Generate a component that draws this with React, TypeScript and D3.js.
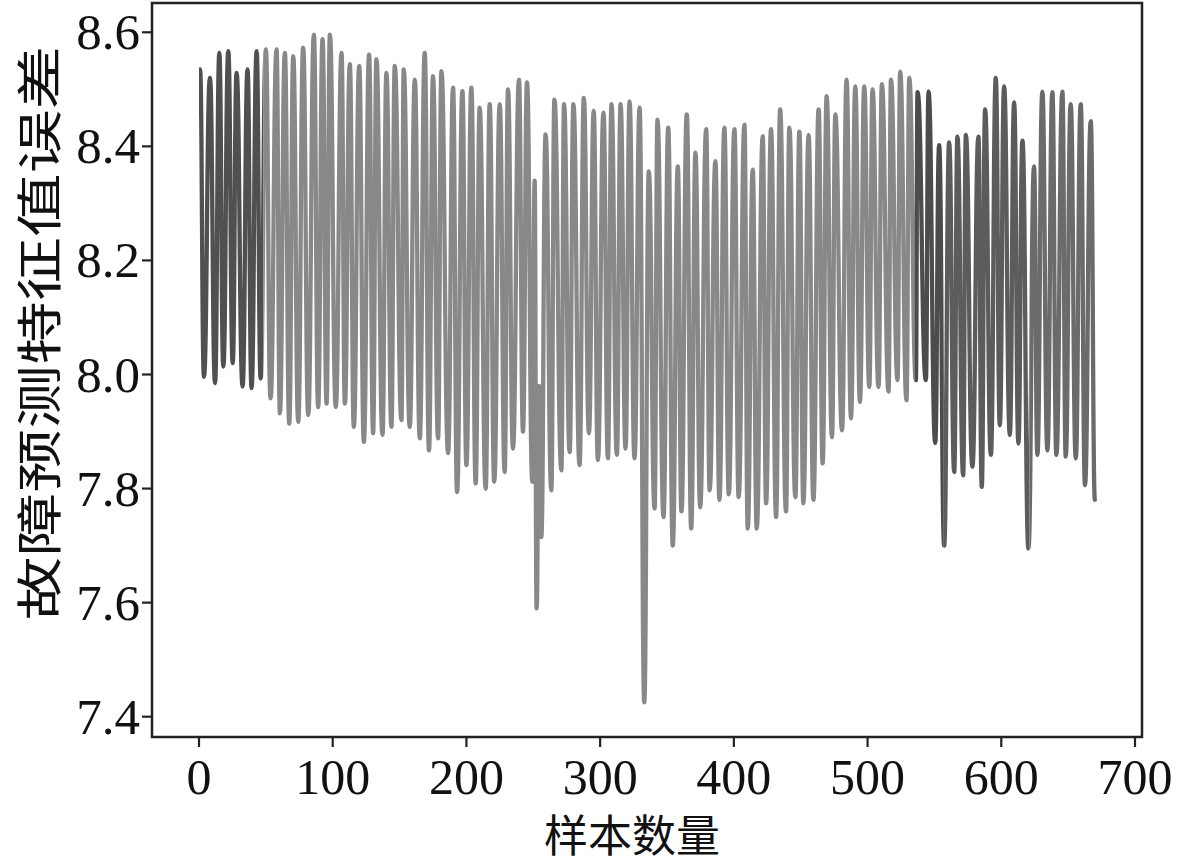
import * as d3 from "d3";

// turning points of the error curve (sample index, value)
const sampleIdx = [
  0, 0.8, 3.7, 8.2, 12.0, 15.2, 18.2, 21.9, 25.2, 28.1, 32.6, 36.3, 39.3, 43.1, 46.1, 50.0,
  53.5, 58.0, 60.5, 64.2, 67.5, 70.5, 74.2, 77.9, 81.7, 85.9, 89.1, 92.4, 95.4, 97.9, 102.3,
  106.6, 109.1, 112.8, 115.8, 119.8, 123.3, 127.2, 130.2, 132.7, 137.2, 140.2, 143.9, 146.4,
  151.4, 153.1, 157.6, 161.4, 165.1, 168.8, 172.0, 175.0, 178.8, 181.3, 186.3, 190.0, 193.0,
  197.0, 200.0, 203.7, 206.9, 209.9, 214.4, 217.4, 220.8, 224.9, 228.6, 231.1, 234.8, 239.3,
  242.3, 245.3, 249.3, 251.0, 252.5, 254.3, 256.0, 259.2, 263.5, 265.8, 271.0, 273.0, 277.2,
  280.0, 284.6, 287.8, 291.6, 295.2, 298.3, 302.5, 305.8, 308.5, 312.5, 315.3, 319.0, 322.0,
  325.7, 329.5, 333.0, 336.4, 340.7, 342.9, 347.4, 350.9, 354.3, 358.1, 360.8, 364.8, 368.1,
  371.3, 374.8, 379.3, 381.9, 386.2, 389.2, 392.9, 396.2, 400.4, 403.6, 407.9, 410.4, 414.1,
  417.1, 421.6, 424.1, 427.8, 431.6, 434.6, 439.0, 441.5, 446.0, 449.0, 452.0, 455.9, 459.5,
  463.4, 466.4, 469.4, 473.4, 475.9, 480.9, 484.3, 487.6, 490.8, 494.3, 497.5, 501.3, 503.7,
  508.2, 510.7, 515.7, 517.5, 522.4, 524.4, 529.1, 531.2, 536.1, 537.4, 543.6, 545.6, 550.6,
  553.5, 557.3, 561.0, 564.8, 567.2, 571.5, 573.5, 578.4, 582.9, 585.4, 587.9, 592.2, 595.9,
  598.9, 602.1, 606.4, 609.6, 612.8, 615.8, 620.3, 624.5, 627.0, 630.7, 634.5, 638.2, 641.2,
  645.7, 648.2, 651.9, 655.7, 659.4, 662.6, 666.9, 670.0,
];
const errValue = [
  8.49, 8.535, 7.996, 8.52, 7.985, 8.564, 8.014, 8.567, 8.02, 8.529, 7.979, 8.535, 7.976, 8.567, 7.993, 8.57,
  7.958, 8.57, 7.932, 8.564, 7.914, 8.558, 7.917, 8.573, 7.929, 8.596, 7.943, 8.588, 7.949, 8.596, 7.943,
  8.564, 7.949, 8.544, 7.908, 8.541, 7.882, 8.561, 7.897, 8.553, 7.894, 8.529, 7.908, 8.541,
  7.92, 8.535, 7.908, 8.517, 7.888, 8.564, 7.867, 8.523, 7.888, 8.532, 7.862, 8.503, 7.794,
  8.497, 7.841, 8.503, 7.809, 8.468, 7.8, 8.474, 7.812, 8.474, 7.829, 8.5, 7.87, 8.517,
  7.9, 8.512, 7.812, 8.34, 7.59, 7.98, 7.715, 8.421, 7.797, 8.482, 7.832, 8.474, 7.864,
  8.474, 7.841, 8.485, 7.897, 8.462, 7.85, 8.459, 7.853, 8.474, 7.859, 8.474, 7.87, 8.479,
  7.853, 8.468, 7.425, 8.356, 7.765, 8.447, 7.75, 8.433, 7.7, 8.365, 7.76, 8.456, 7.73,
  8.389, 7.767, 8.43, 7.797, 8.374, 7.78, 8.433, 7.79, 8.43, 7.785, 8.438, 7.73, 8.359,
  7.73, 8.418, 7.774, 8.43, 7.75, 8.465, 7.76, 8.433, 7.785, 8.426, 7.774, 8.42, 7.78,
  8.465, 7.844, 8.488, 7.89, 8.456, 7.902, 8.517, 7.923, 8.505, 7.952, 8.505, 7.978, 8.5,
  7.978, 8.509, 7.97, 8.517, 7.99, 8.531, 7.955, 8.52, 7.99, 8.495, 7.99, 8.496, 7.88,
  8.402, 7.7, 8.407, 7.829, 8.417, 7.823, 8.42, 7.838, 8.417, 7.803, 8.465, 7.859, 8.52,
  7.911, 8.505, 7.894, 8.477, 7.879, 8.41, 7.695, 8.365, 7.859, 8.496, 7.867, 8.495, 7.859,
  8.496, 7.856, 8.474, 7.853, 8.474, 7.806, 8.444, 7.78,
];

const xTicks = [0, 100, 200, 300, 400, 500, 600, 700];
const yTicks = [7.4, 7.6, 7.8, 8.0, 8.2, 8.4, 8.6];

// grey shade of the curve changes along the samples
const bandFrom = [0, 48, 535, 557, 621];
const bandTo = [48, 535, 557, 621, 675];
const bandColor = ["#505050", "#888888", "#4c4c4c", "#5c5c5c", "#6b6b6b"];

const serif = "'Liberation Serif', 'Times New Roman', serif";
const cjk = "'Noto Sans CJK SC', sans-serif";

export default function App() {
  const width = 1181,
    height = 864;
  const frame = { left: 152, right: 1142, top: 3, bottom: 737 };

  const x = d3.scaleLinear().domain([0, 700]).range([199, 1135]);
  const y = d3.scaleLinear().domain([7.4, 8.6]).range([716.7, 32.3]);

  const pts: [number, number][] = sampleIdx.map((s, i) => [s, errValue[i]]);
  // swings are nearly instantaneous: steep S-shaped strokes with rounded ends
  const line = d3
    .line<[number, number]>()
    .curve(d3.curveBumpX)
    .x((d) => x(d[0]))
    .y((d) => y(d[1]));
  const d = line(pts) || "";

  return (
    <svg
      width={width}
      height={height}
      style={{ position: "absolute", left: 0, top: 0, background: "#fff" }}
    >
      <defs>
        {bandFrom.map((lo, i) => (
          <clipPath id={`band${i}`} key={i}>
            <rect
              x={x(lo)}
              y={frame.top}
              width={x(bandTo[i]) - x(lo)}
              height={frame.bottom - frame.top}
            />
          </clipPath>
        ))}
      </defs>

      {bandFrom.map((_, i) => (
        <path
          key={i}
          d={d}
          fill="none"
          stroke={bandColor[i]}
          strokeWidth={4.3}
          strokeLinejoin="round"
          strokeLinecap="round"
          clipPath={`url(#band${i})`}
        />
      ))}

      <rect
        x={frame.left}
        y={frame.top}
        width={frame.right - frame.left}
        height={frame.bottom - frame.top}
        fill="none"
        stroke="#222"
        strokeWidth={2.5}
      />

      {yTicks.map((t) => (
        <g key={t}>
          <line x1={frame.left - 10} x2={frame.left} y1={y(t)} y2={y(t)} stroke="#222" strokeWidth={2.2} />
          <text
            x={frame.left - 12}
            y={y(t) + 17}
            textAnchor="end"
            fontFamily={serif}
            fontSize={51}
            fill="#111"
          >
            {t.toFixed(1)}
          </text>
        </g>
      ))}

      {xTicks.map((t) => (
        <g key={t}>
          <line x1={x(t)} x2={x(t)} y1={frame.bottom} y2={frame.bottom + 10} stroke="#222" strokeWidth={2.2} />
          <text
            x={x(t)}
            y={794}
            textAnchor="middle"
            fontFamily={serif}
            fontSize={50}
            fill="#111"
          >
            {t}
          </text>
        </g>
      ))}

      <text
        x={632}
        y={852}
        textAnchor="middle"
        fontFamily={cjk}
        fontSize={44}
        fill="#111"
      >
        样本数量
      </text>

      <text
        transform="translate(36,333) rotate(-90)"
        textAnchor="middle"
        dominantBaseline="central"
        fontFamily={cjk}
        fontSize={46}
        textLength={575}
        lengthAdjust="spacingAndGlyphs"
        fill="#111"
      >
        故障预测特征值误差
      </text>
    </svg>
  );
}
